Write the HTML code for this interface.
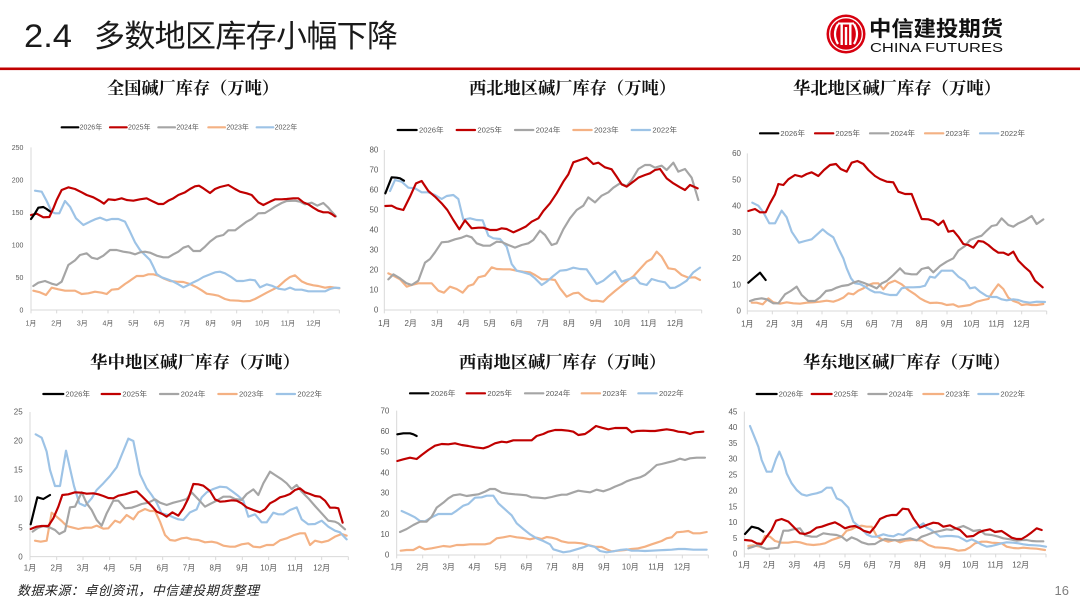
<!DOCTYPE html>
<html><head><meta charset="utf-8"><style>
html,body{margin:0;padding:0;background:#fff;}
svg{display:block;}
.t{font-family:"Liberation Sans","Noto Sans CJK SC",sans-serif;fill:#595959;}
.ax{stroke:#D9D9D9;stroke-width:3;fill:none;}
.s{fill:none;stroke-width:6.5;stroke-linejoin:round;stroke-linecap:round;}
.k{stroke:#000;} .r{stroke:#C00000;} .g{stroke:#A5A5A5;} .o{stroke:#F4B183;} .b{stroke:#9DC3E6;}
.ct{font-family:"Liberation Serif","Noto Serif CJK SC",serif;font-weight:700;font-size:17px;fill:#111;}
</style></head><body>
<svg width="1080" height="608" viewBox="0 0 1080 608" xmlns="http://www.w3.org/2000/svg">
<rect width="1080" height="608" fill="#fff"/>
<!-- header -->
<text x="24" y="47" font-family="Liberation Sans,Noto Sans CJK SC,sans-serif" font-size="32" fill="#1a1a1a" textLength="48" lengthAdjust="spacingAndGlyphs">2.4</text>
<text x="94" y="47" font-family="Liberation Sans,Noto Sans CJK SC,sans-serif" font-size="31" fill="#1a1a1a" textLength="304" lengthAdjust="spacing">多数地区库存小幅下降</text>
<rect x="0" y="67.5" width="1080" height="2.6" fill="#C00000"/>
<!-- logo -->
<circle cx="846" cy="34" r="19.5" fill="#D7000F"/>
<circle cx="846" cy="34" r="16.3" fill="none" stroke="#fff" stroke-width="1.3"/>
<path d="M838 24 Q832 34 838 44" fill="none" stroke="#fff" stroke-width="2.2"/>
<path d="M854 24 Q860 34 854 44" fill="none" stroke="#fff" stroke-width="2.2"/>
<rect x="840.5" y="23" width="2.4" height="22" fill="#fff"/>
<rect x="849.1" y="23" width="2.4" height="22" fill="#fff"/>
<rect x="844.8" y="27" width="2.4" height="18" fill="#fff"/>
<rect x="838" y="22.5" width="16" height="2" fill="#fff"/>
<text x="869" y="36" font-family="Noto Sans CJK SC,sans-serif" font-weight="700" font-size="21" fill="#111" textLength="134" lengthAdjust="spacingAndGlyphs">中信建投期货</text>
<text x="870" y="52" font-family="Liberation Sans,sans-serif" font-size="13" fill="#111" textLength="133" lengthAdjust="spacingAndGlyphs">CHINA FUTURES</text>

<!-- chart titles -->
<text class="ct" x="107" y="94" textLength="172" lengthAdjust="spacingAndGlyphs">全国碱厂库存（万吨）</text>
<text class="ct" x="469" y="94" textLength="207" lengthAdjust="spacingAndGlyphs">西北地区碱厂库存（万吨）</text>
<text class="ct" x="793" y="94" textLength="208" lengthAdjust="spacingAndGlyphs">华北地区碱厂库存（万吨）</text>
<text class="ct" x="90" y="368" textLength="210" lengthAdjust="spacingAndGlyphs">华中地区碱厂库存（万吨）</text>
<text class="ct" x="459" y="368" textLength="207" lengthAdjust="spacingAndGlyphs">西南地区碱厂库存（万吨）</text>
<text class="ct" x="803" y="368" textLength="207" lengthAdjust="spacingAndGlyphs">华东地区碱厂库存（万吨）</text>

<!-- CHART 1 全国 -->
<g transform="translate(20,115) scale(0.333333)">
<g class="t" font-size="21">
<line class="s k" x1="125" y1="37" x2="175" y2="37" stroke-width="8"/><text x="179" y="44">2026年</text>
<line class="s r" x1="270" y1="37" x2="320" y2="37" stroke-width="8"/><text x="324" y="44">2025年</text>
<line class="s g" x1="415" y1="37" x2="465" y2="37" stroke-width="8"/><text x="469" y="44">2024年</text>
<line class="s o" x1="565" y1="37" x2="615" y2="37" stroke-width="8"/><text x="619" y="44">2023年</text>
<line class="s b" x1="710" y1="37" x2="760" y2="37" stroke-width="8"/><text x="764" y="44">2022年</text>
</g>
<line class="ax" x1="33" y1="97" x2="33" y2="585"/>
<line class="ax" x1="33" y1="585" x2="958" y2="585"/>
<path class="ax" d="M33 585v10M110 585v10M187 585v10M264 585v10M341 585v10M418 585v10M495 585v10M573 585v10M650 585v10M727 585v10M804 585v10M881 585v10M958 585v10"/>
<g class="t" font-size="21" text-anchor="end">
<text x="10" y="593">0</text><text x="10" y="495">50</text><text x="10" y="398">100</text><text x="10" y="300">150</text><text x="10" y="203">200</text><text x="10" y="105">250</text>
</g>
<g class="t" font-size="21" text-anchor="middle">
<text x="33" y="632">1月</text><text x="110" y="632">2月</text><text x="187" y="632">3月</text><text x="264" y="632">4月</text><text x="341" y="632">5月</text><text x="418" y="632">6月</text><text x="495" y="632">7月</text><text x="573" y="632">8月</text><text x="650" y="632">9月</text><text x="727" y="632">10月</text><text x="804" y="632">11月</text><text x="881" y="632">12月</text>
</g>
<polyline class="s o" points="40,527 60,532 78,540 95,518 115,523 135,527 150,527 165,527 185,537 205,535 225,530 245,533 260,537 275,524 295,522 315,507 330,497 350,483 370,483 385,478 400,478 415,482 430,490 450,498 470,500 490,501 510,507 530,517 545,526 560,536 580,539 595,542 615,552 630,556 655,557 670,559 690,558 705,552 720,544 740,533 760,523 775,515 795,497 810,486 825,481 845,499 860,506 880,511 895,513 915,518 930,516 945,518 958,520"/>
<polyline class="s b" points="45,227 65,230 80,258 95,290 105,295 118,295 135,258 150,275 168,310 190,330 210,320 225,313 240,308 260,316 275,312 295,312 315,320 330,350 345,382 360,405 375,420 390,435 400,455 410,477 425,487 445,494 460,500 475,508 490,517 505,510 520,502 535,495 550,486 570,478 585,472 600,470 615,475 635,487 650,498 670,498 690,494 705,496 720,517 740,508 755,512 775,521 795,524 810,518 825,524 845,524 865,529 885,529 900,529 915,529 930,522 945,518 958,519"/>
<polyline class="s g" points="40,513 55,503 75,498 95,506 110,510 125,500 145,450 165,436 180,420 200,415 215,428 232,432 250,422 270,405 290,405 310,410 330,413 345,418 360,412 375,410 390,413 410,422 430,427 445,427 460,418 475,410 490,398 505,393 520,408 540,408 555,395 570,380 590,365 610,360 625,346 645,346 660,335 680,320 695,312 715,295 735,294 750,285 765,275 785,264 800,258 825,257 840,260 855,268 875,263 892,272 910,264 925,278 935,290 948,304"/>
<polyline class="s r" points="33,300 50,296 70,307 88,306 100,280 110,255 125,225 145,217 165,222 185,232 200,240 220,247 240,258 252,266 265,253 285,255 305,250 320,255 340,257 360,253 380,250 400,260 415,267 430,267 445,257 460,250 475,240 495,232 510,222 525,214 537,212 550,220 570,234 585,222 600,216 625,210 645,222 660,230 680,235 695,240 715,262 730,270 750,260 765,253 785,253 800,252 820,250 835,250 850,262 865,268 880,278 895,287 910,292 925,292 935,297 945,304"/>
<polyline class="s k" points="33,312 45,295 55,278 70,276 80,282 90,289"/>
</g>

<!-- CHART 2 西北 -->
<g transform="translate(360,115) scale(0.333333)">
<g class="t" font-size="23">
<line class="s k" x1="113" y1="45" x2="170" y2="45" stroke-width="8"/><text x="177" y="53">2026年</text>
<line class="s r" x1="290" y1="45" x2="345" y2="45" stroke-width="8"/><text x="352" y="53">2025年</text>
<line class="s g" x1="465" y1="45" x2="520" y2="45" stroke-width="8"/><text x="527" y="53">2024年</text>
<line class="s o" x1="640" y1="45" x2="695" y2="45" stroke-width="8"/><text x="702" y="53">2023年</text>
<line class="s b" x1="815" y1="45" x2="870" y2="45" stroke-width="8"/><text x="877" y="53">2022年</text>
</g>
<line class="ax" x1="73" y1="105" x2="73" y2="585"/>
<line class="ax" x1="73" y1="585" x2="1025" y2="585"/>
<path class="ax" d="M73 585v10M152 585v10M232 585v10M311 585v10M390 585v10M470 585v10M549 585v10M628 585v10M708 585v10M787 585v10M866 585v10M946 585v10M1025 585v10"/>
<g class="t" font-size="24" text-anchor="end">
<text x="55" y="593">0</text><text x="55" y="533">10</text><text x="55" y="473">20</text><text x="55" y="413">30</text><text x="55" y="353">40</text><text x="55" y="293">50</text><text x="55" y="233">60</text><text x="55" y="173">70</text><text x="55" y="113">80</text>
</g>
<g class="t" font-size="24" text-anchor="middle">
<text x="73" y="633">1月</text><text x="152" y="633">2月</text><text x="232" y="633">3月</text><text x="311" y="633">4月</text><text x="390" y="633">5月</text><text x="470" y="633">6月</text><text x="549" y="633">7月</text><text x="628" y="633">8月</text><text x="708" y="633">9月</text><text x="787" y="633">10月</text><text x="866" y="633">11月</text><text x="946" y="633">12月</text>
</g>
<polyline class="s o" points="85,475 100,482 120,493 140,515 155,510 175,505 195,505 215,505 235,527 252,533 270,515 290,522 308,533 325,513 340,508 355,487 375,482 395,457 410,462 430,463 450,463 470,467 490,470 510,472 525,480 545,493 570,493 585,495 600,520 620,545 640,535 655,533 675,550 695,558 710,557 730,560 745,545 765,528 785,512 805,495 820,484 840,462 860,440 875,432 890,410 905,425 925,460 945,463 965,480 985,488 1005,487 1020,495"/>
<polyline class="s b" points="90,228 105,195 125,200 145,218 165,220 185,232 205,232 225,240 245,252 260,243 280,240 295,252 310,314 330,310 350,315 368,316 385,362 400,370 420,372 440,395 455,447 470,467 490,472 510,478 525,490 545,510 560,500 580,483 600,467 620,465 640,458 660,462 680,463 695,485 710,507 730,497 750,480 765,468 785,500 805,493 825,487 840,505 860,510 875,492 895,498 915,502 930,519 945,518 960,510 980,497 1000,472 1020,458"/>
<polyline class="s g" points="85,493 100,478 120,490 140,505 155,510 175,497 195,443 210,432 225,412 245,382 265,380 285,373 305,368 320,362 335,367 350,385 370,392 390,392 410,380 425,381 445,390 465,398 485,390 505,385 520,375 540,347 555,360 575,390 590,385 610,343 630,310 650,285 670,272 685,247 705,262 725,242 745,232 760,218 780,205 800,213 815,195 835,162 855,150 870,150 885,158 905,152 920,165 940,143 955,170 975,162 995,188 1015,255"/>
<polyline class="s r" points="76,273 95,272 110,280 130,285 150,245 168,205 185,198 205,228 225,245 245,265 262,285 280,315 298,343 315,316 335,340 355,338 370,338 390,345 410,345 425,340 440,342 460,352 480,343 497,335 515,320 535,310 550,288 570,265 590,235 610,200 625,178 640,142 660,135 680,128 700,147 715,143 735,157 755,163 770,185 785,208 800,215 820,200 835,188 855,180 870,175 885,165 900,162 920,190 940,205 960,217 975,225 990,210 1013,220"/>
<polyline class="s k" points="76,235 95,187 110,188 120,190 132,197"/>
</g>

<!-- CHART 3 华北 -->
<g transform="translate(720,115) scale(0.333333)">
<g class="t" font-size="23">
<line class="s k" x1="120" y1="55" x2="175" y2="55" stroke-width="8"/><text x="181" y="63">2026年</text>
<line class="s r" x1="285" y1="55" x2="340" y2="55" stroke-width="8"/><text x="346" y="63">2025年</text>
<line class="s g" x1="450" y1="55" x2="505" y2="55" stroke-width="8"/><text x="511" y="63">2024年</text>
<line class="s o" x1="615" y1="55" x2="670" y2="55" stroke-width="8"/><text x="676" y="63">2023年</text>
<line class="s b" x1="780" y1="55" x2="835" y2="55" stroke-width="8"/><text x="841" y="63">2022年</text>
</g>
<line class="ax" x1="82" y1="115" x2="82" y2="588"/>
<line class="ax" x1="82" y1="588" x2="980" y2="588"/>
<path class="ax" d="M82 588v10M157 588v10M232 588v10M306 588v10M381 588v10M456 588v10M531 588v10M606 588v10M681 588v10M755 588v10M830 588v10M905 588v10M980 588v10"/>
<g class="t" font-size="24" text-anchor="end">
<text x="63" y="596">0</text><text x="63" y="517">10</text><text x="63" y="438">20</text><text x="63" y="360">30</text><text x="63" y="281">40</text><text x="63" y="202">50</text><text x="63" y="123">60</text>
</g>
<g class="t" font-size="24" text-anchor="middle">
<text x="82" y="634">1月</text><text x="157" y="634">2月</text><text x="232" y="634">3月</text><text x="306" y="634">4月</text><text x="381" y="634">5月</text><text x="456" y="634">6月</text><text x="531" y="634">7月</text><text x="606" y="634">8月</text><text x="681" y="634">9月</text><text x="755" y="634">10月</text><text x="830" y="634">11月</text><text x="905" y="634">12月</text>
</g>
<polyline class="s o" points="95,563 110,563 128,568 145,550 160,562 180,566 200,562 220,565 240,566 260,563 280,562 300,560 320,557 340,560 355,555 370,548 385,535 400,538 415,527 430,520 445,510 460,505 475,505 490,523 505,505 525,497 545,508 565,525 585,538 600,550 615,558 630,564 650,563 665,565 680,570 700,568 715,575 730,573 750,570 770,560 790,555 805,552 820,528 835,508 850,522 865,548 880,558 895,563 905,570 920,568 935,570 950,570 970,567"/>
<polyline class="s b" points="97,263 115,272 130,292 148,325 165,325 185,287 200,307 215,350 237,383 255,378 275,373 295,355 308,343 322,355 340,367 355,400 370,430 380,460 393,490 405,505 420,507 435,515 450,525 465,532 480,532 495,537 510,540 530,540 545,520 560,517 580,517 600,516 615,512 630,485 645,488 665,467 680,467 697,467 715,485 735,498 750,520 765,517 780,530 800,543 815,546 830,546 845,553 860,556 880,553 895,555 910,560 930,563 950,560 975,561"/>
<polyline class="s g" points="90,558 105,553 125,550 140,553 160,565 175,565 195,538 212,528 230,515 245,540 265,558 285,558 300,547 318,528 335,525 350,518 365,513 385,510 400,503 415,498 435,505 455,513 470,520 485,505 500,498 520,480 540,460 555,475 575,478 590,478 605,462 625,457 640,472 660,453 680,440 700,430 715,407 735,393 750,375 770,367 785,362 800,347 815,333 830,330 845,310 865,330 880,335 895,325 915,316 935,303 950,327 970,313"/>
<polyline class="s r" points="85,288 105,282 120,292 137,292 150,265 165,238 175,207 190,210 205,193 225,180 245,185 260,177 275,172 295,183 312,165 330,150 348,147 362,162 380,170 395,143 412,138 430,147 445,165 465,183 480,192 500,200 520,202 535,230 555,237 575,237 590,275 605,312 625,313 640,318 655,330 670,317 685,350 700,347 715,365 730,387 745,390 760,398 775,378 790,380 805,390 820,403 835,413 850,413 865,420 880,410 895,437 915,457 930,470 945,497 968,517"/>
<polyline class="s k" points="85,503 100,490 120,473 137,495"/>
</g>

<!-- CHART 4 华中 -->
<g transform="translate(0,380) scale(0.333333)">
<g class="t" font-size="23">
<line class="s k" x1="130" y1="42" x2="190" y2="42" stroke-width="8"/><text x="196" y="50">2026年</text>
<line class="s r" x1="305" y1="42" x2="360" y2="42" stroke-width="8"/><text x="367" y="50">2025年</text>
<line class="s g" x1="480" y1="42" x2="535" y2="42" stroke-width="8"/><text x="542" y="50">2024年</text>
<line class="s o" x1="655" y1="42" x2="710" y2="42" stroke-width="8"/><text x="717" y="50">2023年</text>
<line class="s b" x1="830" y1="42" x2="885" y2="42" stroke-width="8"/><text x="892" y="50">2022年</text>
</g>
<line class="ax" x1="90" y1="96" x2="90" y2="530"/>
<line class="ax" x1="90" y1="530" x2="1045" y2="530"/>
<path class="ax" d="M90 530v10M170 530v10M249 530v10M329 530v10M408 530v10M488 530v10M567 530v10M647 530v10M727 530v10M806 530v10M886 530v10M965 530v10M1045 530v10"/>
<g class="t" font-size="24" text-anchor="end">
<text x="68" y="538">0</text><text x="68" y="451">5</text><text x="68" y="364">10</text><text x="68" y="278">15</text><text x="68" y="191">20</text><text x="68" y="104">25</text>
</g>
<g class="t" font-size="24" text-anchor="middle">
<text x="90" y="572">1月</text><text x="170" y="572">2月</text><text x="249" y="572">3月</text><text x="329" y="572">4月</text><text x="408" y="572">5月</text><text x="488" y="572">6月</text><text x="567" y="572">7月</text><text x="647" y="572">8月</text><text x="727" y="572">9月</text><text x="806" y="572">10月</text><text x="886" y="572">11月</text><text x="965" y="572">12月</text>
</g>
<polyline class="s o" points="105,482 122,485 140,482 155,398 170,410 185,423 200,438 215,442 235,447 255,443 275,443 290,437 310,446 325,445 345,422 360,428 380,405 400,418 415,397 435,387 450,393 465,393 480,425 495,465 510,480 525,482 545,475 560,473 575,478 595,480 615,487 635,485 650,488 670,497 690,500 705,500 725,493 745,490 760,500 780,502 800,495 820,495 840,481 860,475 880,466 900,460 915,460 930,495 945,482 965,487 985,482 1005,470 1025,462 1040,467"/>
<polyline class="s b" points="107,163 125,173 140,215 150,270 165,318 180,318 198,212 210,265 222,318 238,370 255,378 275,355 290,330 310,310 330,288 350,262 365,225 385,176 400,183 420,283 440,325 455,345 470,368 485,400 505,405 520,412 535,418 550,420 570,397 590,388 605,352 620,337 640,327 660,320 680,322 697,334 715,348 730,362 745,410 765,403 785,427 800,427 820,398 835,403 850,403 870,390 890,382 905,418 925,433 945,432 965,422 985,440 1005,452 1020,457 1040,478"/>
<polyline class="s g" points="98,455 115,443 130,438 150,443 165,450 178,462 195,453 210,382 225,380 245,337 260,370 275,390 290,420 305,437 320,400 340,362 355,362 375,385 395,383 410,378 425,372 445,368 465,358 480,368 500,375 520,368 540,363 560,357 575,337 595,358 615,380 630,372 650,362 670,350 690,350 705,357 725,360 740,342 760,328 775,345 790,310 810,275 825,285 845,298 860,310 875,327 890,315 905,335 925,355 945,378 965,400 985,422 1005,425 1015,430 1035,448"/>
<polyline class="s r" points="92,447 110,440 125,438 145,438 160,415 175,380 187,345 205,343 225,337 245,338 260,341 280,340 295,343 310,348 325,354 340,355 355,347 375,343 395,337 410,334 425,348 440,363 455,378 470,395 487,402 500,410 517,397 535,407 550,385 565,355 580,312 595,313 610,317 630,333 645,358 660,365 675,364 695,361 710,362 725,370 740,382 760,390 780,397 795,388 810,370 825,362 840,352 855,348 870,342 885,330 900,325 915,337 930,342 945,348 960,350 975,362 990,383 1005,383 1015,385 1028,428"/>
<polyline class="s k" points="92,433 112,352 130,357 150,345"/>
</g>

<!-- CHART 5 西南 -->
<g transform="translate(360,380) scale(0.333333)">
<g class="t" font-size="23">
<line class="s k" x1="150" y1="40" x2="205" y2="40" stroke-width="8"/><text x="212" y="48">2026年</text>
<line class="s r" x1="320" y1="40" x2="375" y2="40" stroke-width="8"/><text x="382" y="48">2025年</text>
<line class="s g" x1="495" y1="40" x2="550" y2="40" stroke-width="8"/><text x="557" y="48">2024年</text>
<line class="s o" x1="665" y1="40" x2="720" y2="40" stroke-width="8"/><text x="727" y="48">2023年</text>
<line class="s b" x1="835" y1="40" x2="890" y2="40" stroke-width="8"/><text x="897" y="48">2022年</text>
</g>
<line class="ax" x1="110" y1="92" x2="110" y2="525"/>
<line class="ax" x1="110" y1="525" x2="1045" y2="525"/>
<path class="ax" d="M110 525v10M188 525v10M266 525v10M344 525v10M422 525v10M500 525v10M577 525v10M655 525v10M733 525v10M811 525v10M889 525v10M967 525v10M1045 525v10"/>
<g class="t" font-size="24" text-anchor="end">
<text x="88" y="533">0</text><text x="88" y="471">10</text><text x="88" y="409">20</text><text x="88" y="347">30</text><text x="88" y="286">40</text><text x="88" y="224">50</text><text x="88" y="162">60</text><text x="88" y="100">70</text>
</g>
<g class="t" font-size="24" text-anchor="middle">
<text x="110" y="568">1月</text><text x="188" y="568">2月</text><text x="266" y="568">3月</text><text x="344" y="568">4月</text><text x="422" y="568">5月</text><text x="500" y="568">6月</text><text x="577" y="568">7月</text><text x="655" y="568">8月</text><text x="733" y="568">9月</text><text x="811" y="568">10月</text><text x="889" y="568">11月</text><text x="967" y="568">12月</text>
</g>
<polyline class="s o" points="122,512 140,510 160,510 178,500 195,508 215,505 235,501 250,498 270,500 290,495 310,495 330,493 350,493 375,493 390,490 410,475 430,472 450,468 470,472 490,474 510,478 530,473 545,477 560,471 575,473 590,477 605,484 625,488 645,488 665,490 685,495 705,500 725,501 740,508 755,514 775,512 795,510 815,507 835,505 855,500 875,493 890,488 905,483 920,475 935,472 950,457 970,455 985,453 1000,460 1020,460 1040,456"/>
<polyline class="s b" points="125,393 145,402 165,412 180,423 195,424 215,412 235,402 255,402 275,402 290,392 310,377 325,372 345,353 365,352 380,347 400,347 415,370 435,388 455,406 470,430 490,447 510,463 530,475 550,483 570,493 580,508 600,514 610,517 630,514 650,508 670,502 685,496 705,501 720,513 740,517 760,514 780,510 800,508 815,512 835,512 855,513 875,512 895,511 915,510 935,509 955,507 975,507 1000,509 1040,509"/>
<polyline class="s g" points="120,456 140,447 160,435 180,425 200,425 215,410 230,383 250,368 265,355 280,346 300,343 320,348 340,345 355,343 375,335 390,327 405,327 425,338 445,341 465,343 480,344 500,346 515,352 535,353 555,355 575,351 590,347 605,344 620,344 640,337 655,332 675,335 690,337 710,329 730,334 750,327 765,320 785,312 800,304 820,297 840,292 855,285 870,273 890,255 905,252 925,247 945,242 960,236 975,240 990,235 1010,233 1035,233"/>
<polyline class="s r" points="112,243 130,238 150,233 170,237 185,225 205,210 225,197 245,192 265,193 285,190 305,195 325,198 345,202 370,205 385,200 405,190 425,185 440,187 460,181 480,181 495,181 515,181 530,168 550,162 565,155 585,150 605,150 625,152 640,155 655,165 675,162 690,152 708,138 725,143 745,148 765,144 780,144 800,144 815,157 830,153 850,152 870,153 885,153 905,150 920,148 940,151 955,155 975,157 990,162 1005,157 1030,155"/>
<polyline class="s k" points="112,163 130,160 150,160 160,163 170,168"/>
</g>

<!-- CHART 6 华东 -->
<g transform="translate(720,380) scale(0.333333)">
<g class="t" font-size="23">
<line class="s k" x1="110" y1="42" x2="170" y2="42" stroke-width="8"/><text x="176" y="50">2026年</text>
<line class="s r" x1="275" y1="42" x2="335" y2="42" stroke-width="8"/><text x="341" y="50">2025年</text>
<line class="s g" x1="445" y1="42" x2="500" y2="42" stroke-width="8"/><text x="506" y="50">2024年</text>
<line class="s o" x1="610" y1="42" x2="670" y2="42" stroke-width="8"/><text x="676" y="50">2023年</text>
<line class="s b" x1="775" y1="42" x2="835" y2="42" stroke-width="8"/><text x="841" y="50">2022年</text>
</g>
<line class="ax" x1="73" y1="95" x2="73" y2="522"/>
<line class="ax" x1="73" y1="522" x2="978" y2="522"/>
<path class="ax" d="M73 522v10M148 522v10M224 522v10M299 522v10M375 522v10M450 522v10M525 522v10M601 522v10M676 522v10M752 522v10M827 522v10M902 522v10M978 522v10"/>
<g class="t" font-size="24" text-anchor="end">
<text x="52" y="530">0</text><text x="52" y="483">5</text><text x="52" y="435">10</text><text x="52" y="388">15</text><text x="52" y="340">20</text><text x="52" y="293">25</text><text x="52" y="245">30</text><text x="52" y="198">35</text><text x="52" y="150">40</text><text x="52" y="103">45</text>
</g>
<g class="t" font-size="24" text-anchor="middle">
<text x="73" y="562">1月</text><text x="148" y="562">2月</text><text x="224" y="562">3月</text><text x="299" y="562">4月</text><text x="375" y="562">5月</text><text x="450" y="562">6月</text><text x="525" y="562">7月</text><text x="601" y="562">8月</text><text x="676" y="562">9月</text><text x="752" y="562">10月</text><text x="827" y="562">11月</text><text x="902" y="562">12月</text>
</g>
<polyline class="s o" points="85,498 100,496 120,500 135,468 150,470 165,483 185,488 205,488 225,485 240,487 260,493 280,495 300,493 315,490 335,480 350,475 365,470 380,452 395,448 410,440 425,437 440,440 455,440 470,468 485,478 505,485 525,480 540,487 555,482 575,480 590,480 605,482 625,495 645,502 665,503 685,505 700,508 715,512 735,510 750,502 765,490 785,485 800,485 815,488 830,489 845,490 860,500 880,504 895,505 910,503 930,505 950,506 975,510"/>
<polyline class="s b" points="90,138 105,175 115,200 125,240 140,275 155,275 168,237 178,215 190,243 200,280 215,310 230,330 245,343 260,347 275,343 290,340 305,335 320,323 335,323 350,355 365,362 385,383 400,425 415,438 430,452 440,463 455,470 470,470 490,463 505,467 520,469 535,462 550,465 565,453 580,445 595,440 610,430 620,443 630,448 645,458 660,470 680,468 695,468 715,470 730,478 740,484 755,478 770,485 785,494 800,500 815,498 830,494 845,490 860,487 880,488 895,490 910,493 925,495 945,496 960,497 978,500"/>
<polyline class="s g" points="85,505 100,500 115,495 125,502 140,507 160,505 175,503 190,452 205,452 220,448 240,445 255,466 275,470 290,470 310,460 330,463 350,465 365,470 380,482 395,472 410,478 425,487 445,493 465,492 480,483 495,477 515,480 535,481 550,478 570,475 590,481 605,470 620,465 640,457 660,453 680,448 695,450 715,443 730,438 745,445 760,453 780,450 795,463 815,465 835,470 850,475 870,478 890,482 905,480 920,480 935,483 950,484 970,484"/>
<polyline class="s r" points="75,480 95,482 110,490 125,492 140,470 155,450 168,422 185,417 205,425 220,440 240,460 255,462 270,457 290,443 305,440 325,433 345,427 360,435 375,445 390,440 405,438 420,445 430,452 450,458 465,440 480,417 500,408 515,405 530,405 548,386 565,388 580,415 600,443 620,435 640,428 655,430 670,440 690,436 705,444 720,450 740,470 760,468 775,458 790,452 810,448 825,456 845,453 860,463 875,473 890,477 905,477 920,468 935,457 950,445 965,450"/>
<polyline class="s k" points="75,462 95,440 115,445 130,455"/>
</g>

<!-- footer -->
<text x="17" y="595" font-family="Liberation Sans,Noto Sans CJK SC,sans-serif" font-size="13" font-style="italic" fill="#222" textLength="242" lengthAdjust="spacing">数据来源：卓创资讯，中信建投期货整理</text>
<text x="1069" y="595" text-anchor="end" font-family="Liberation Sans,sans-serif" font-size="13" fill="#7f7f7f">16</text>
</svg>
</body></html>
